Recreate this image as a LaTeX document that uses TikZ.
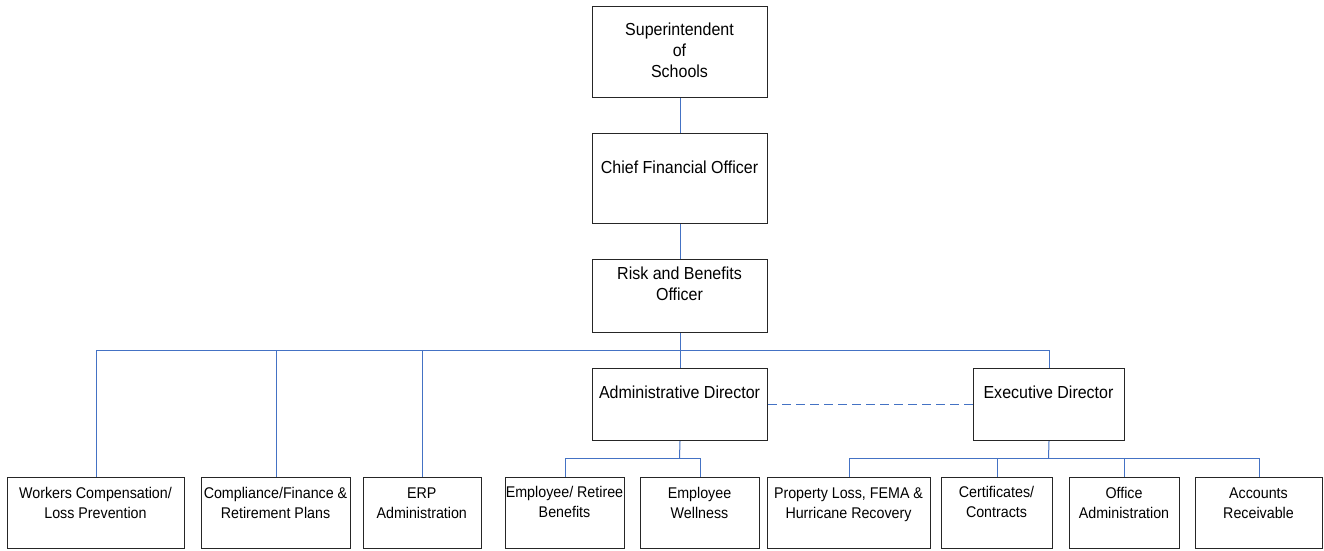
\documentclass[tikz,border=0pt]{standalone}
\usepackage{fontspec}
\setmainfont{Liberation Sans}[FakeStretch=0.92]
\begin{document}
\begin{tikzpicture}[x=1pt,y=-1pt,
  box/.style={draw=black!85, line width=1pt, inner sep=0pt, fill=white},
  txt/.style={inner sep=0pt, align=center, font=\fontsize{15.5}{20}\selectfont},
  bigtxt/.style={inner sep=0pt, align=center, font=\fontsize{17.4}{21}\selectfont},
  link/.style={draw={rgb,255:red,68;green,114;blue,196}, line width=1pt},
  dlink/.style={link, dash pattern=on 9pt off 5pt}]
\useasboundingbox (0,0) rectangle (1324,550);
% #8: text style; #6: offset of the last baseline below the box top
\newcommand\orgbox[8]{%
  \node[box, minimum width={#4pt-#2pt}, minimum height={#5pt-#3pt}, anchor=north west] (#1) at (#2,#3) {};
  \node[#8, anchor=base] (#1-t) at ({(#2+#4)/2},{#3+#6}) {#7};}
\orgbox{sup}{592}{6}{767}{97}{71}{Superintendent\\of\\Schools}{bigtxt}
\orgbox{cfo}{592}{133}{767}{223}{40}{Chief Financial Officer}{bigtxt}
\orgbox{risk}{592}{259}{767}{332}{41}{Risk and Benefits\\Officer}{bigtxt}
\orgbox{admin}{592}{368}{767}{440}{30}{Administrative Director}{bigtxt}
\orgbox{exec}{973}{368}{1124}{440}{30}{Executive Director}{bigtxt}
\orgbox{work}{7}{477}{184}{548}{41}{Workers Compensation/\\Loss Prevention}{txt}
\orgbox{comp}{201}{477}{350}{548}{41}{Compliance/Finance \&\\Retirement Plans}{txt}
\orgbox{erp}{362.5}{477}{481}{548}{41}{ERP\\Administration}{txt}
\orgbox{empr}{505}{477}{624}{548}{40}{Employee/ Retiree\\Benefits}{txt}
\orgbox{well}{640}{477}{759}{548}{41}{Employee\\Wellness}{txt}
\orgbox{prop}{767}{477}{930}{548}{41}{Property Loss, FEMA \&\\Hurricane Recovery}{txt}
\orgbox{cert}{941}{477}{1052}{548}{40}{Certificates/\\Contracts}{txt}
\orgbox{office}{1069}{477}{1179}{548}{41}{Office\\Administration}{txt}
\orgbox{acct}{1195}{477}{1322}{548}{41}{Accounts\\Receivable}{txt}
\draw[link] (sup.south) -- (cfo.north);
\draw[link] (cfo.south) -- (risk.north);
\coordinate (bus) at (679.5,350);
\draw[link] (risk.south) -- (admin.north);
\foreach \n in {work,comp,erp,exec} \draw[link] (bus) -| (\n.north);
\coordinate (abus) at (679.5,458);
\draw[link] (admin.south) -- (abus);
\foreach \n in {empr,well} \draw[link] (abus) -| (\n.north);
\coordinate (ebus) at (1048.5,458);
\draw[link] (exec.south) -- (ebus);
\foreach \n in {prop,cert,office,acct} \draw[link] (ebus) -| (\n.north);
\draw[dlink] (admin.east) -- (exec.west);
\end{tikzpicture}
\end{document}
